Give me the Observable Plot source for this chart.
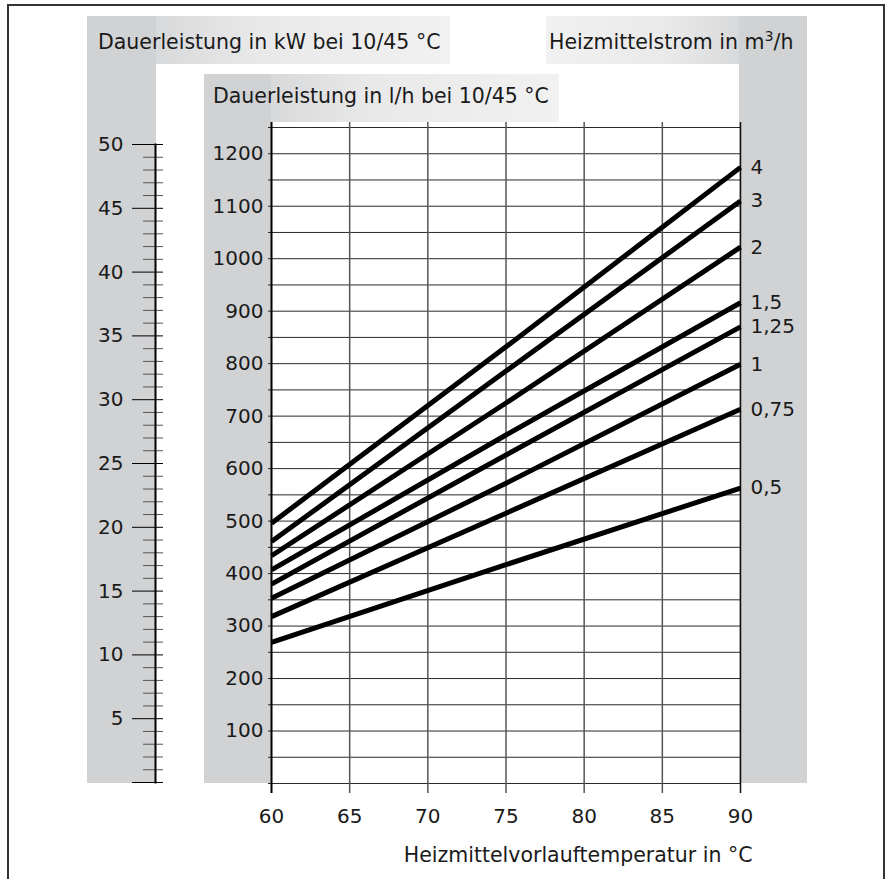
<!DOCTYPE html>
<html>
<head>
<meta charset="utf-8">
<script src="https://cdn.jsdelivr.net/npm/d3@7"></script>
<script src="https://cdn.jsdelivr.net/npm/@observablehq/plot@0.6"></script>
<style>
html,body{margin:0;padding:0;background:#fff;}
#wrap{position:relative;width:887px;height:879px;overflow:hidden;font-family:"DejaVu Sans",sans-serif;color:#1a1a1a;}
#wrap svg{position:absolute;left:0;top:0;background:transparent;}
.band{position:absolute;background:#d1d2d4;}
.hdr{position:absolute;font-size:20.5px;line-height:24px;white-space:nowrap;}
#border{position:absolute;left:7px;top:4px;width:878px;height:900px;border:2px solid #333;box-sizing:border-box;}
</style>
</head>
<body>
<div id="wrap">
  <div id="border"></div>
  <div class="band" style="left:87px;top:16px;width:69px;height:767px;"></div>
  <div class="band" style="left:156px;top:16px;width:294px;height:48px;background:linear-gradient(to right,#d8d9da,#e9e9ea 35%,#f1f1f1);"></div>
  <div class="band" style="left:204px;top:74px;width:67px;height:709px;"></div>
  <div class="band" style="left:271px;top:74px;width:288px;height:48px;background:linear-gradient(to right,#d8d9da,#e9e9ea 35%,#f1f1f1);"></div>
  <div class="band" style="left:739px;top:16px;width:68px;height:767px;"></div>
  <div class="band" style="left:546px;top:16px;width:193px;height:48px;background:linear-gradient(to left,#d8d9da,#e9e9ea 35%,#f1f1f1);"></div>
  <div class="hdr" id="h1" style="left:98px;top:30px;"></div>
  <div class="hdr" id="h2" style="left:213px;top:84px;"></div>
  <div class="hdr" id="h3" style="left:549px;top:30px;"></div>
</div>
<script>
// ---- data ----
const temps = [60, 75, 90];
const flows = ["4", "3", "2", "1,5", "1,25", "1", "0,75", "0,5"];
const at60 = [496, 461, 434, 407, 380, 353, 318, 269];
const at75 = [832, 786, 725, 664, 626, 572, 515, 417];
const at90 = [1174, 1110, 1022, 916, 870, 799, 713, 563];
const xTicks = [60, 65, 70, 75, 80, 85, 90];
const lhLabels = [100, 200, 300, 400, 500, 600, 700, 800, 900, 1000, 1100, 1200];
const lhGrid = [0, 50, 100, 150, 200, 250, 300, 350, 400, 450, 500, 550, 600, 650, 700, 750, 800, 850, 900, 950, 1000, 1050, 1100, 1150, 1200, 1250];
const kwMajor = [0, 5, 10, 15, 20, 25, 30, 35, 40, 45, 50];
const kwMinor = d3.range(1, 50).filter(d => d % 5 !== 0);
const header1 = "Dauerleistung in kW bei 10/45 °C";
const header2 = "Dauerleistung in l/h bei 10/45 °C";
const header3 = "Heizmittelstrom in m<sup style='font-size:0.7em;line-height:0'>3</sup>/h";
const xTitle = "Heizmittelvorlauftemperatur in °C";

document.getElementById("h1").textContent = header1;
document.getElementById("h2").textContent = header2;
document.getElementById("h3").innerHTML = header3;

const rows = [];
flows.forEach((f, i) => {
  [at60[i], at75[i], at90[i]].forEach((v, j) => rows.push({flow: f, t: temps[j], v}));
});
const ends = flows.map((f, i) => ({flow: f, t: 90, v: at90[i]}));

const W = 887, H = 879;
const FS = 20;
const font = {fontFamily: "DejaVu Sans", fontSize: FS + "px", background: "transparent", color: "#1a1a1a"};
const plain = d => String(d);

const main = Plot.plot({
  width: W, height: H,
  marginLeft: 271, marginRight: 147, marginTop: 127, marginBottom: 96,
  style: font,
  x: {domain: [60, 90]},
  y: {domain: [0, 1250]},
  marks: [
    Plot.ruleY(lhGrid, {stroke: "#2a2a2a", strokeWidth: 1, insetLeft: -3}),
    Plot.ruleX(xTicks.slice(1, -1), {stroke: "#555", strokeWidth: 1.5, insetTop: -5, insetBottom: -10}),
    Plot.ruleX([60], {stroke: "#000", strokeWidth: 2, insetTop: -5, insetBottom: -10}),
    Plot.ruleX([90], {stroke: "#111", strokeWidth: 1.5, insetTop: -5, insetBottom: -10}),
    Plot.axisY(lhLabels, {anchor: "left", tickSize: 0, tickPadding: 8, label: null, fill: "#1a1a1a", tickFormat: plain, fontSize: FS}),
    Plot.axisX(xTicks, {anchor: "bottom", tickSize: 0, tickPadding: 25, label: null, fill: "#1a1a1a", tickFormat: plain, fontSize: FS}),
    Plot.line(rows, {x: "t", y: "v", z: "flow", stroke: "#000", strokeWidth: 5, strokeLinecap: "butt"}),
    Plot.text(ends, {x: "t", y: "v", text: "flow", dx: 10, textAnchor: "start", fill: "#1a1a1a", fontSize: FS}),
    Plot.text([xTitle], {frameAnchor: "bottom-right", dx: 12, dy: 78, textAnchor: "end", fill: "#1a1a1a", fontSize: 20.5})
  ]
});

const kw = Plot.plot({
  width: W, height: H,
  marginLeft: 155, marginRight: 724, marginTop: 144, marginBottom: 97,
  style: font,
  y: {domain: [0, 50]},
  marks: [
    Plot.axisY(kwMinor, {anchor: "left", tickSize: 12, tickFormat: () => "", stroke: "#555", label: null}),
    Plot.axisY(kwMajor, {anchor: "left", tickSize: 23, tickPadding: 9, tickFormat: d => d === 0 ? "" : String(d), stroke: "#000", label: null, fill: "#1a1a1a", fontSize: FS}),
    Plot.tickY(kwMinor, {stroke: "#555"}),
    Plot.tickY(kwMajor, {stroke: "#000"}),
    Plot.frame({anchor: "left", stroke: "#000", strokeWidth: 2})
  ]
});

const wrap = document.getElementById("wrap");
wrap.appendChild(main);
wrap.appendChild(kw);
</script>
</body>
</html>
